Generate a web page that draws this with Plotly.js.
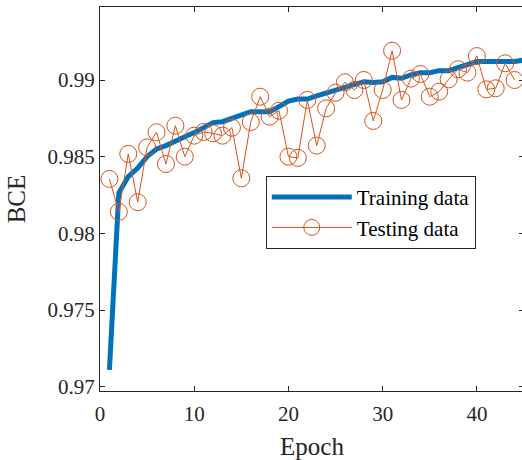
<!DOCTYPE html>
<html>
<head>
<meta charset="utf-8">
<script src="https://cdn.plot.ly/plotly-3.0.1.min.js"></script>
<style>
html, body { margin: 0; padding: 0; overflow: hidden; background: #fff; }
#chart { width: 524px; height: 460px; }
</style>
</head>
<body>
<div id="chart"></div>
<script>
const epochsTrain = [1,2,3,4,5,6,7,8,9,10,11,12,13,14,15,16,17,18,19,20,21,22,23,24,25,26,27,28,29,30,31,32,33,34,35,36,37,38,39,40,41,42,43,44,45];
const trainBCE = [0.97109,0.98263,0.98370,0.98426,0.98500,0.98550,0.98572,0.98604,0.98630,0.98657,
  0.98685,0.98722,0.98728,0.98750,0.98772,0.98793,0.98793,0.98793,0.98826,0.98863,
  0.98876,0.98876,0.98896,0.98913,0.98930,0.98952,0.98967,0.98989,0.98983,0.98989,
  0.99017,0.99011,0.99033,0.99048,0.99048,0.99061,0.99061,0.99080,0.99098,0.99120,
  0.99120,0.99120,0.99126,0.99120,0.99130];
const epochsTest = [1,2,3,4,5,6,7,8,9,10,11,12,13,14,15,16,17,18,19,20,21,22,23,24,25,26,27,28,29,30,31,32,33,34,35,36,37,38,39,40,41,42,43,44];
const testBCE = [0.98355,0.98141,0.98518,0.98203,0.98561,0.98659,0.98452,0.98702,0.98500,0.98637,
  0.98661,0.98652,0.98637,0.98689,0.98359,0.98726,0.98891,0.98761,0.98800,0.98500,
  0.98492,0.98870,0.98572,0.98815,0.98917,0.98985,0.98935,0.99000,0.98733,0.98935,
  0.99191,0.98870,0.99009,0.99039,0.98891,0.98924,0.99004,0.99070,0.99048,0.99156,
  0.98939,0.98946,0.99109,0.99000];
const xTickVals = [0,10,20,30,40];
const yTickVals = [0.97,0.975,0.98,0.985,0.99];
const yTickLabels = ['0.97','0.975','0.98','0.985','0.99'];
const seriesNames = ['Training data','Testing data'];

const axisColor = '#262626';
const font = "'Liberation Serif', 'Times New Roman', Times, serif";

const traces = [
  {
    x: epochsTrain, y: trainBCE, name: seriesNames[0], type: 'scatter', mode: 'lines',
    line: {color: '#0072BD', width: 5}
  },
  {
    x: epochsTest, y: testBCE, name: seriesNames[1], type: 'scatter', mode: 'lines+markers',
    line: {color: '#D95319', width: 1},
    marker: {symbol: 'circle-open', size: 17, color: '#D95319', line: {width: 1, color: '#D95319'}}
  }
];

const layout = {
  width: 524, height: 460,
  margin: {l: 100, r: 0, t: 7, b: 69},
  paper_bgcolor: '#fff', plot_bgcolor: '#fff',
  font: {family: font, size: 21, color: axisColor},
  showlegend: true,
  legend: {
    x: 0.391, y: 0.56, xanchor: 'left', yanchor: 'top',
    bgcolor: '#fff', bordercolor: axisColor, borderwidth: 1,
    font: {family: font, size: 21, color: '#000'},
    itemwidth: 80, tracegroupgap: 0
  },
  xaxis: {
    range: [0, 45], tickvals: xTickVals, ticks: 'inside', ticklen: 5, tickcolor: axisColor,
    showline: true, linecolor: axisColor, linewidth: 1, mirror: 'ticks', showgrid: false, zeroline: false,
    tickfont: {family: font, size: 21, color: axisColor}, ticklabelstandoff: 4,
    title: {text: 'Epoch', font: {family: font, size: 25, color: axisColor}, standoff: 14}
  },
  yaxis: {
    range: [0.96972, 0.99476], tickvals: yTickVals, ticktext: yTickLabels, ticks: 'inside', ticklen: 5, tickcolor: axisColor,
    showline: true, linecolor: axisColor, linewidth: 1, mirror: 'ticks', showgrid: false, zeroline: false,
    tickfont: {family: font, size: 21, color: axisColor},
    title: {text: 'BCE', font: {family: font, size: 25, color: axisColor}, standoff: 14}
  }
};

Plotly.newPlot('chart', traces, layout, {displayModeBar: false, staticPlot: true});
</script>
</body>
</html>
